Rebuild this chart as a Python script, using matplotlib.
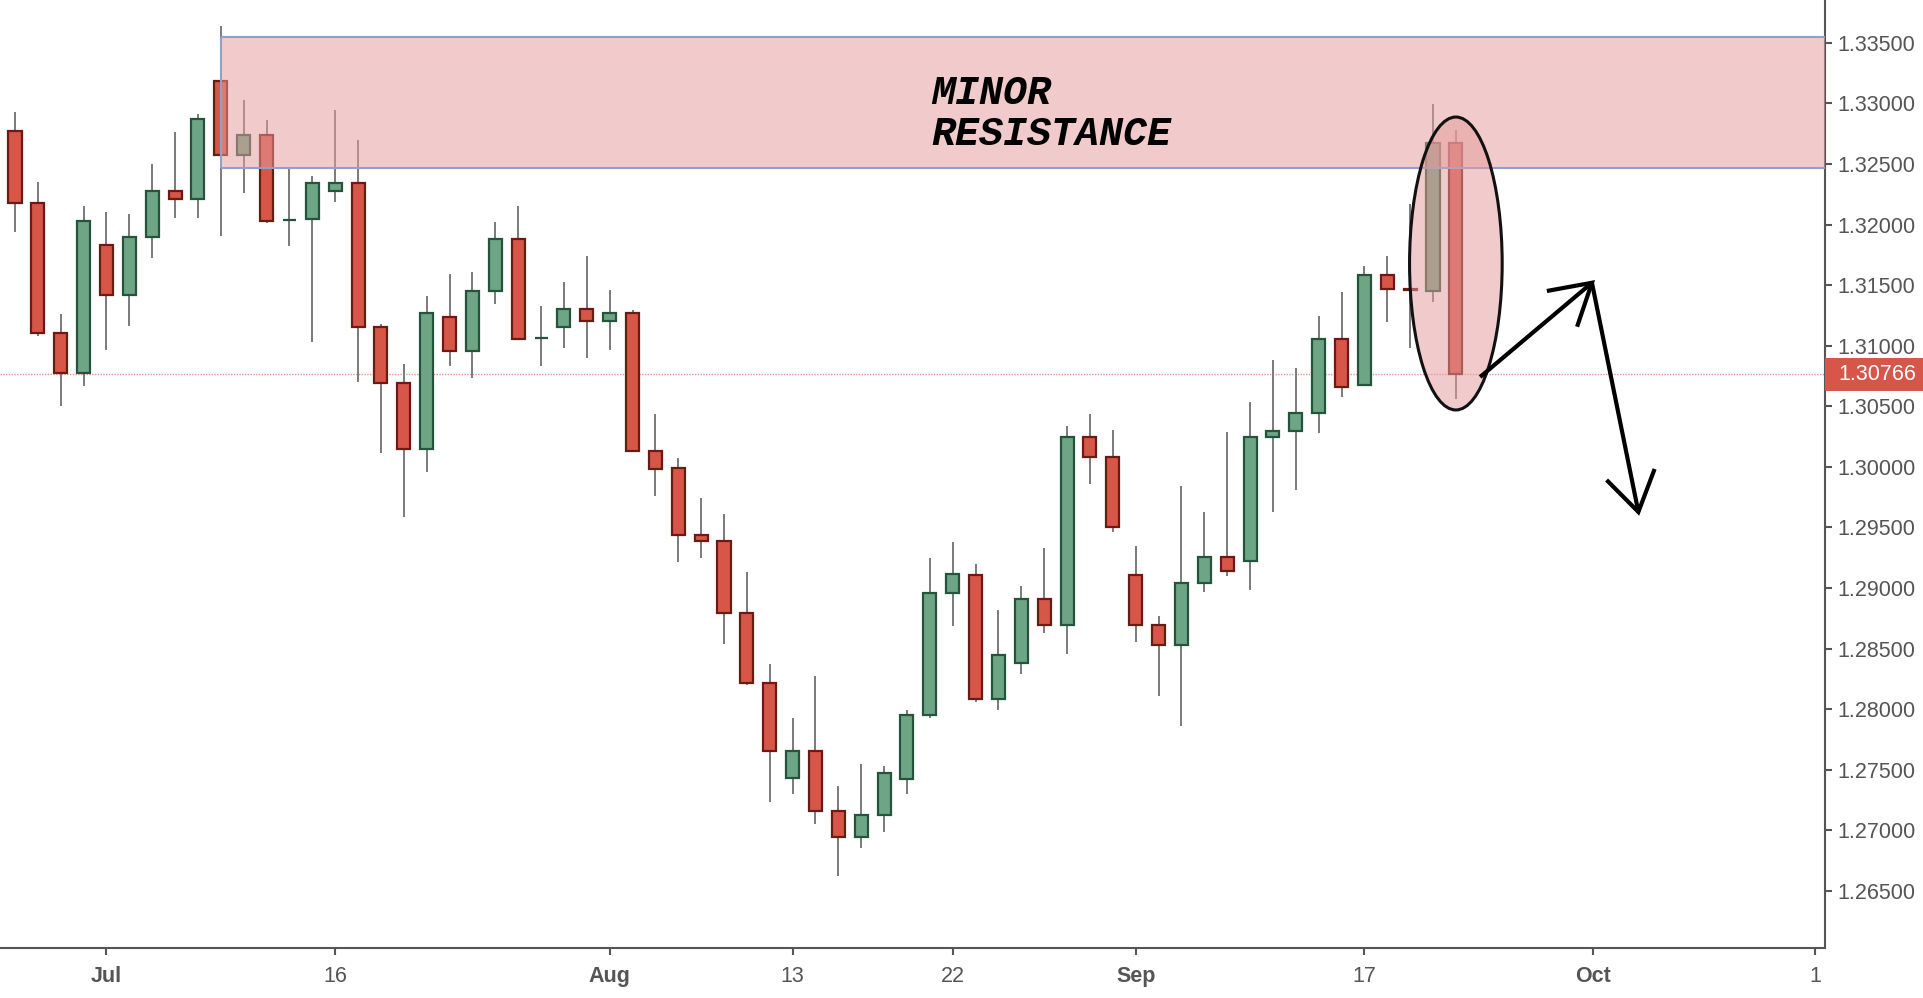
import numpy as np
import pandas as pd
import matplotlib
matplotlib.use('Agg')
import matplotlib.pyplot as plt
import matplotlib.patches as mpatches
import matplotlib.transforms as mtransforms

plt.rcParams['font.family'] = ['Liberation Sans', 'DejaVu Sans']

# daily candles, 26 Jun - 21 Sep 2018
dates = pd.bdate_range('2018-06-26', '2018-09-21')
opens = [1.32775, 1.32181, 1.31108, 1.30778, 1.31834, 1.31419, 1.31895, 1.32280, 1.32211, 1.33188,
         1.32575, 1.32742, 1.32035, 1.32044, 1.32275, 1.32346, 1.31157, 1.30695, 1.30148, 1.31240,
         1.30957, 1.31452, 1.31884, 1.31064, 1.31152, 1.31306, 1.31204, 1.31273, 1.30131, 1.29987,
         1.29441, 1.29389, 1.28795, 1.28218, 1.27436, 1.27658, 1.27162, 1.26945, 1.27124, 1.27424,
         1.27952, 1.28959, 1.29109, 1.28082, 1.28382, 1.28913, 1.28694, 1.30249, 1.30085, 1.29109,
         1.28697, 1.28529, 1.29043, 1.29259, 1.29222, 1.30249, 1.30299, 1.30442, 1.31058, 1.30673,
         1.31587, 1.31465, 1.31452, 1.32676]
highs = [1.32927, 1.32349, 1.31262, 1.32154, 1.32104, 1.32088, 1.32500, 1.32764, 1.32913, 1.33640,
         1.33029, 1.32864, 1.32465, 1.32401, 1.32946, 1.32698, 1.31179, 1.30849, 1.31411, 1.31592,
         1.31609, 1.32021, 1.32154, 1.31328, 1.31526, 1.31741, 1.31460, 1.31295, 1.30434, 1.30073,
         1.29744, 1.29611, 1.29132, 1.28374, 1.27926, 1.28273, 1.27364, 1.27548, 1.27528, 1.27990,
         1.29245, 1.29381, 1.29199, 1.28818, 1.29014, 1.29329, 1.30338, 1.30434, 1.30302, 1.29346,
         1.28766, 1.29840, 1.29626, 1.30285, 1.30533, 1.30882, 1.30814, 1.31246, 1.31441, 1.31658,
         1.31741, 1.32170, 1.32996, 1.32781]
lows = [1.31942, 1.31083, 1.30503, 1.30670, 1.30965, 1.31166, 1.31727, 1.32057, 1.32057, 1.31909,
        1.32258, 1.32011, 1.31826, 1.31034, 1.32189, 1.30703, 1.30112, 1.29590, 1.29960, 1.30836,
        1.30736, 1.31347, 1.31050, 1.30836, 1.30984, 1.30902, 1.30965, 1.30120, 1.29762, 1.29216,
        1.29251, 1.28541, 1.28198, 1.27237, 1.27303, 1.27055, 1.26625, 1.26856, 1.26989, 1.27303,
        1.27929, 1.28688, 1.28062, 1.27996, 1.28293, 1.28628, 1.28457, 1.29860, 1.29464, 1.28558,
        1.28111, 1.27863, 1.28971, 1.29101, 1.28985, 1.29629, 1.29813, 1.30277, 1.30574, 1.30673,
        1.31199, 1.30984, 1.31364, 1.30558]
closes = [1.32181, 1.31102, 1.30778, 1.32033, 1.31419, 1.31900, 1.32280, 1.32211, 1.32875, 1.32575,
          1.32742, 1.32033, 1.32040, 1.32346, 1.32346, 1.31152, 1.30690, 1.30148, 1.31273, 1.30957,
          1.31455, 1.31884, 1.31056, 1.31068, 1.31306, 1.31204, 1.31273, 1.30131, 1.29982, 1.29438,
          1.29389, 1.28795, 1.28215, 1.27655, 1.27658, 1.27159, 1.26945, 1.27127, 1.27476, 1.27955,
          1.28962, 1.29112, 1.28082, 1.28449, 1.28913, 1.28694, 1.30249, 1.30082, 1.29505, 1.28694,
          1.28529, 1.29043, 1.29259, 1.29138, 1.30249, 1.30299, 1.30448, 1.31058, 1.30657, 1.31587,
          1.31466, 1.31460, 1.32676, 1.30766]

tick_pos = [4, 14, 26, 34, 41, 49, 59, 69, 78.7]
tick_labels = ['Jul', '16', 'Aug', '13', '22', 'Sep', '17', 'Oct', '1']
month_labels = ['Jul', 'Aug', 'Sep', 'Oct']
y_ticks = [1.265, 1.270, 1.275, 1.280, 1.285, 1.290, 1.295, 1.300, 1.305,
           1.310, 1.315, 1.320, 1.325, 1.330, 1.335]

last_price = 1.30766
zone_low, zone_high = 1.3247, 1.3355
zone_start = 9

# hand drawn projection arrows (bar index, price)
arrow_up_x = [64.06, 68.95]
arrow_up_y = [1.30742, 1.31520]
head_up_x = [66.98, 68.95, 68.3]
head_up_y = [1.31452, 1.31520, 1.31157]
arrow_dn_x = [68.95, 70.98]
arrow_dn_y = [1.31520, 1.29628]
head_dn_x = [69.59, 70.98, 71.69]
head_dn_y = [1.29892, 1.29628, 1.29983]

x_min, x_max = -0.656, 79.14
y_min, y_max = 1.26032, 1.33854

fig = plt.figure(figsize=(19.24, 9.98), dpi=100)
ax = fig.add_axes([0, 0.0505, 1825 / 1924, 0.9495])

x = np.arange(len(opens))
o = np.array(opens)
h = np.array(highs)
l = np.array(lows)
c = np.array(closes)
up = c >= o

ax.axhline(last_price, color='#e8948c', lw=1.0, ls=(0, (1, 1)), zorder=0.5)
ax.vlines(x, l, h, color='#7a7a7a', lw=1.4, zorder=1)
ax.bar(x[up], (c - o)[up], bottom=o[up], width=0.57, color='#6da585',
       edgecolor='#24553a', linewidth=1.6, zorder=2)
ax.bar(x[~up], (c - o)[~up], bottom=o[~up], width=0.57, color='#d65647',
       edgecolor='#6b1a14', linewidth=1.6, zorder=2)

# resistance zone
zone_col = (230 / 255, 156 / 255, 156 / 255)
ax.fill_between([zone_start, x_max], zone_low, zone_high, color=zone_col,
                alpha=0.52, lw=0, zorder=3)
ax.hlines([zone_low, zone_high], zone_start, x_max, color='#8da0cf', lw=1.5, zorder=4)
ax.vlines(zone_start, zone_low, zone_high, color='#8da0cf', lw=1.5, zorder=4)

ax.text(40.05, 1.32996, 'MINOR', family='Liberation Mono', weight='bold',
        style='italic', fontsize=28.8, color='black', zorder=6)
ax.text(40.05, 1.32657, 'RESISTANCE', family='Liberation Mono', weight='bold',
        style='italic', fontsize=28.8, color='black', zorder=6)

ell = mpatches.Ellipse((63, 1.31679), 4.05, 0.02418, facecolor=zone_col + (0.52,),
                       edgecolor='#111111', lw=2.2, zorder=5)
ax.add_patch(ell)

for xs, ys in [(arrow_up_x, arrow_up_y), (head_up_x, head_up_y),
               (arrow_dn_x, arrow_dn_y), (head_dn_x, head_dn_y)]:
    ax.plot(xs, ys, color='black', lw=3, solid_capstyle='butt',
            solid_joinstyle='miter', zorder=7)

ax.set_xlim(x_min, x_max)
ax.set_ylim(y_min, y_max)

for s in ['top', 'left']:
    ax.spines[s].set_visible(False)
for s in ['bottom', 'right']:
    ax.spines[s].set_color('#555555')
    ax.spines[s].set_linewidth(1.5)

ax.yaxis.tick_right()
ax.set_yticks(y_ticks)
ax.set_yticklabels(['%.5f' % v for v in y_ticks])
ax.set_xticks(tick_pos)
ax.set_xticklabels(tick_labels)
for t in ax.get_xticklabels():
    if t.get_text() in month_labels:
        t.set_fontweight('bold')

ax.tick_params(axis='x', direction='out', length=5, width=1.5, colors='#555555',
               labelsize=15.5, pad=8)
ax.tick_params(axis='y', direction='out', length=5, width=1.5, colors='#555555',
               labelsize=15.5, pad=4)

# last price tag on the axis
trans = mtransforms.blended_transform_factory(ax.transAxes, ax.transData)
box_h = 33 / 12114
ax.add_patch(mpatches.Rectangle((1.0, last_price - box_h / 2), 1924 / 1825 - 1.0, box_h,
                                transform=trans, facecolor='#d6574a', edgecolor='none',
                                clip_on=False, zorder=10))
ax.text(1.0075, last_price, '%.5f' % last_price, transform=trans, color='white',
        fontsize=15.5, va='center', ha='left', zorder=11, clip_on=False)

fig.savefig('out.png', dpi=100)
